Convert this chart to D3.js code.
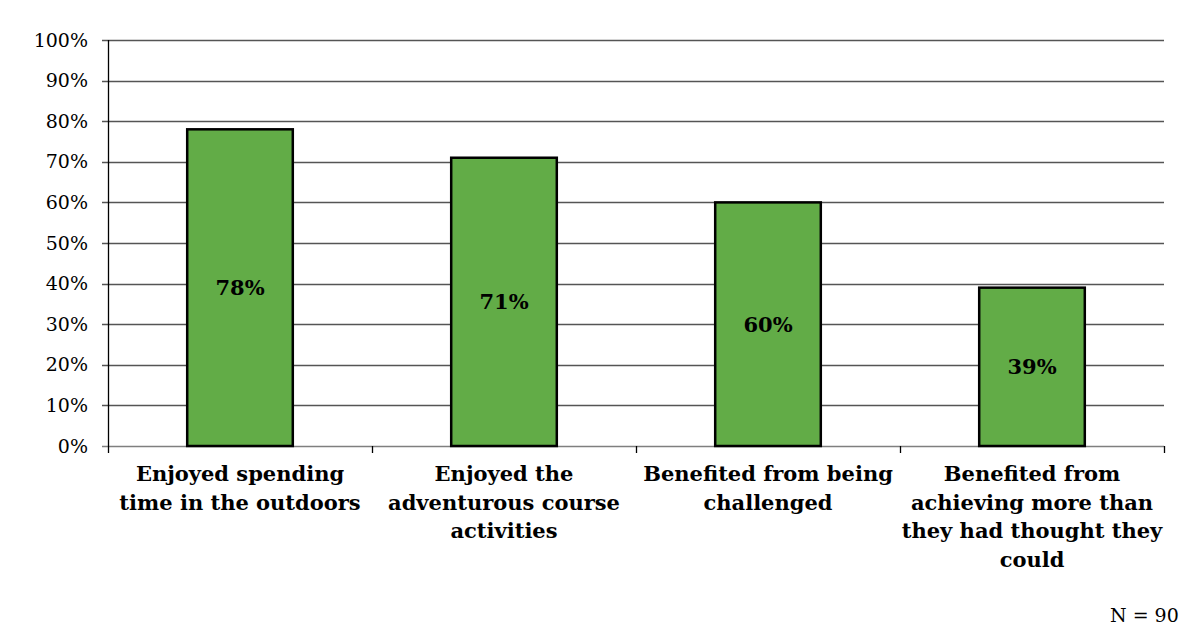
<!DOCTYPE html>
<html>
<head>
  <meta charset="utf-8">
  <script src="https://d3js.org/d3.v7.min.js"></script>
  <style>
    html, body { margin: 0; padding: 0; background: #fff; }
    svg { display: block; }
    text { font-family: "DejaVu Serif", serif; fill: #000; }
  </style>
</head>
<body>
  <script>
    // categories (label lines) and values
    var categories = [
      "Enjoyed spending time in the outdoors",
      "Enjoyed the adventurous course activities",
      "Benefited from being challenged",
      "Benefited from achieving more than they had thought they could"
    ];
    var labelLines = [
      ["Enjoyed spending", "time in the outdoors"],
      ["Enjoyed the", "adventurous course", "activities"],
      ["Benefited from being", "challenged"],
      ["Benefited from", "achieving more than", "they had thought they", "could"]
    ];
    var values = [78, 71, 60, 39];
    var yTicks = [0, 10, 20, 30, 40, 50, 60, 70, 80, 90, 100];
    var note = "N = 90";

    var width = 1200, height = 627;
    var margin = { top: 40, right: 36, bottom: 181, left: 108 };

    var svg = d3.select("body").append("svg")
        .attr("width", width)
        .attr("height", height);

    var x = d3.scaleBand()
        .domain(categories)
        .range([margin.left, width - margin.right])
        .paddingInner(0.6)
        .paddingOuter(0.3);

    var y = d3.scaleLinear()
        .domain([0, 100])
        .range([height - margin.bottom, margin.top]);

    // gridlines
    svg.append("g")
        .selectAll("line")
        .data(yTicks)
        .enter()
        .append("line")
          .attr("x1", margin.left - 6)
          .attr("x2", width - margin.right)
          .attr("y1", function (d) { return Math.round(y(d)) + 0.5; })
          .attr("y2", function (d) { return Math.round(y(d)) + 0.5; })
          .style("stroke", function (d) { return d === 0 ? "#7f7f7f" : "#555"; })
          .style("stroke-width", 1.3);

    // y tick labels
    svg.append("g")
        .selectAll("text")
        .data(yTicks)
        .enter()
        .append("text")
          .attr("x", margin.left - 20)
          .attr("y", function (d) { return y(d); })
          .attr("dy", "0.35em")
          .style("text-anchor", "end")
          .style("font-size", "19px")
          .text(function (d) { return d + "%"; });

    // y axis line
    svg.append("line")
        .attr("x1", margin.left + 0.5)
        .attr("x2", margin.left + 0.5)
        .attr("y1", y(100))
        .attr("y2", y(0))
        .style("stroke", "#000")
        .style("stroke-width", 1.3);

    // category boundary ticks below the axis
    var bounds = d3.range(categories.length + 1).map(function (i) {
      return margin.left + i * (width - margin.right - margin.left) / categories.length;
    });
    svg.append("g")
        .selectAll("line")
        .data(bounds)
        .enter()
        .append("line")
          .attr("x1", function (d) { return Math.round(d) + 0.5; })
          .attr("x2", function (d) { return Math.round(d) + 0.5; })
          .attr("y1", y(0))
          .attr("y2", y(0) + 7)
          .style("stroke", "#000")
          .style("stroke-width", 1.3);

    // bars
    svg.append("g")
        .selectAll("rect")
        .data(values)
        .enter()
        .append("rect")
          .attr("x", function (d, i) { return x(categories[i]); })
          .attr("y", function (d) { return y(d); })
          .attr("width", x.bandwidth())
          .attr("height", function (d) { return y(0) - y(d); })
          .style("fill", "#62ac47")
          .style("stroke", "#000")
          .style("stroke-width", 2.5);

    // value labels in the middle of each bar
    svg.append("g")
        .selectAll("text")
        .data(values)
        .enter()
        .append("text")
          .attr("x", function (d, i) { return x(categories[i]) + x.bandwidth() / 2; })
          .attr("y", function (d) { return (y(d) + y(0)) / 2; })
          .attr("dy", "0.35em")
          .style("text-anchor", "middle")
          .style("font-size", "21px")
          .style("font-weight", "bold")
          .text(function (d) { return d + "%"; });

    // category labels
    var cat = svg.append("g")
        .selectAll("text")
        .data(categories)
        .enter()
        .append("text")
          .attr("x", function (d) { return x(d) + x.bandwidth() / 2; })
          .attr("y", y(0) + 35)
          .style("text-anchor", "middle")
          .style("font-size", "21px")
          .style("font-weight", "bold");
    cat.selectAll("tspan")
        .data(function (d, i) { return labelLines[i]; })
        .enter()
        .append("tspan")
          .attr("x", function () { return d3.select(this.parentNode).attr("x"); })
          .attr("dy", function (d, i) { return i === 0 ? 0 : 28.5; })
          .text(function (d) { return d; });

    // sample size note, bottom right
    svg.append("text")
        .attr("x", 1110)
        .attr("y", 622)
        .style("font-size", "19px")
        .text(note);
  </script>
</body>
</html>
